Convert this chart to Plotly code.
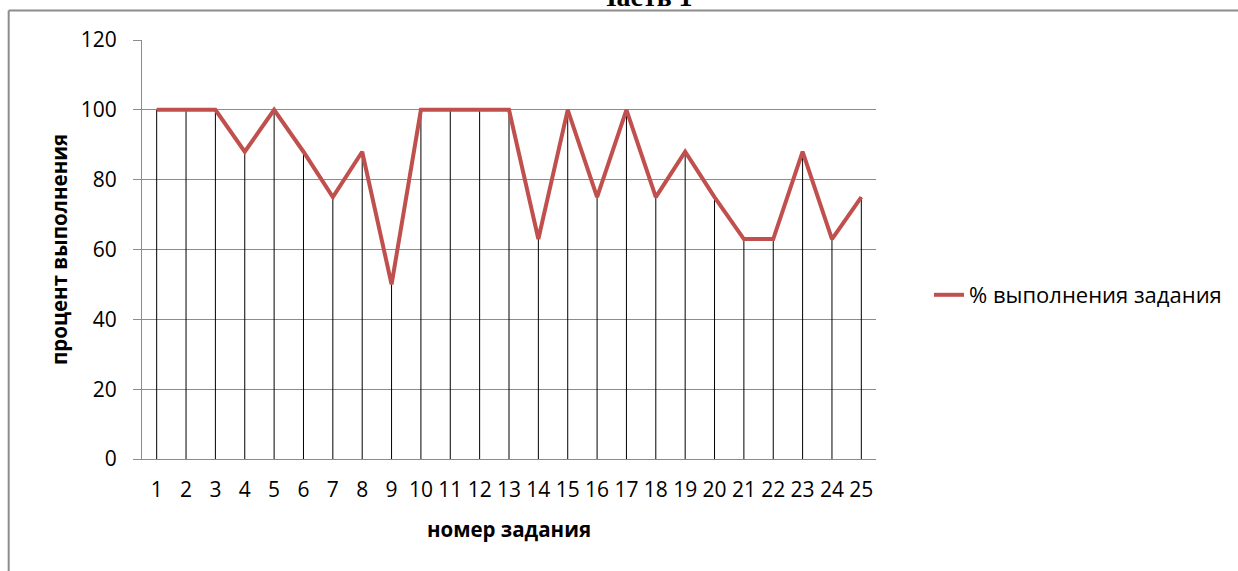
import plotly.graph_objects as go

# Номера заданий и процент их выполнения
task_numbers = list(range(1, 26))
percent_done = [100, 100, 100, 88, 100, 88, 75, 88, 50, 100, 100, 100, 100,
                63, 100, 75, 100, 75, 88, 75, 63, 63, 88, 63, 75]
y_ticks = [0, 20, 40, 60, 80, 100, 120]

W, H = 1238, 571
L, R, T, B = 142, 361, 40, 112
plot_w = W - L - R
plot_h = H - T - B


def px_x(p):
    return (p - L) / plot_w


def px_y(p):
    return (H - B - p) / plot_h


fig = go.Figure()

# Вертикальные линии проекции от точек до оси X
fig.add_trace(go.Scatter(
    x=task_numbers, y=percent_done,
    mode="markers", marker=dict(size=0.1, opacity=0),
    showlegend=False, hoverinfo="skip",
    error_y=dict(type="data", symmetric=False,
                 array=[0] * len(percent_done), arrayminus=percent_done,
                 color="black", thickness=1, width=0),
))

# Основная линия
fig.add_trace(go.Scatter(
    x=task_numbers, y=percent_done,
    mode="lines", name="% выполнения задания",
    line=dict(color="#C0504D", width=4),
))

tick_font = dict(family="Open Sans", size=21, color="black")
title_font = dict(family="Open Sans", size=20.5, color="black")

fig.update_layout(
    width=W, height=H,
    margin=dict(l=L, r=R, t=T, b=B, pad=0),
    paper_bgcolor="white", plot_bgcolor="white",
    font=dict(family="Open Sans", color="black"),
    xaxis=dict(
        range=[0.5, 25.5], tickmode="array", tickvals=task_numbers,
        ticktext=[str(n) for n in task_numbers],
        showgrid=False, zeroline=False,
        showline=True, linecolor="#8C8C8C", linewidth=1,
        ticks="", tickfont=tick_font, ticklabelstandoff=12,
        title=dict(text="<b>номер задания</b>", font=title_font,
                   standoff=20),
    ),
    yaxis=dict(
        range=[0, 120], tickmode="array", tickvals=y_ticks,
        showgrid=True, gridcolor="#8C8C8C", gridwidth=1,
        zeroline=False, showline=True, linecolor="#8C8C8C", linewidth=1,
        ticks="outside", ticklen=8, tickcolor="#8C8C8C", tickwidth=1,
        tickfont=tick_font, ticklabelstandoff=12,
        title=dict(text="<b>процент выполнения</b>", font=title_font,
                   standoff=7),
    ),
    legend=dict(
        x=px_x(929), y=px_y(295), xanchor="left", yanchor="middle",
        font=dict(family="Open Sans", size=22, color="black"),
        bgcolor="rgba(0,0,0,0)",
    ),
    annotations=[dict(
        text="<b>Часть 1</b>", xref="paper", yref="paper",
        x=px_x(645), y=px_y(14), xanchor="center", yanchor="bottom",
        showarrow=False,
        font=dict(family="Liberation Serif", size=28, color="black"),
    )],
    shapes=[
        # Рамка области диаграммы
        dict(type="line", xref="paper", yref="paper",
             x0=px_x(8.5), x1=px_x(1300), y0=px_y(10.5), y1=px_y(10.5),
             line=dict(color="#8C8C8C", width=2)),
        dict(type="line", xref="paper", yref="paper",
             x0=px_x(8.5), x1=px_x(8.5), y0=px_y(10.5), y1=px_y(600),
             line=dict(color="#8C8C8C", width=2)),
    ],
)

fig.write_html("out.html")
